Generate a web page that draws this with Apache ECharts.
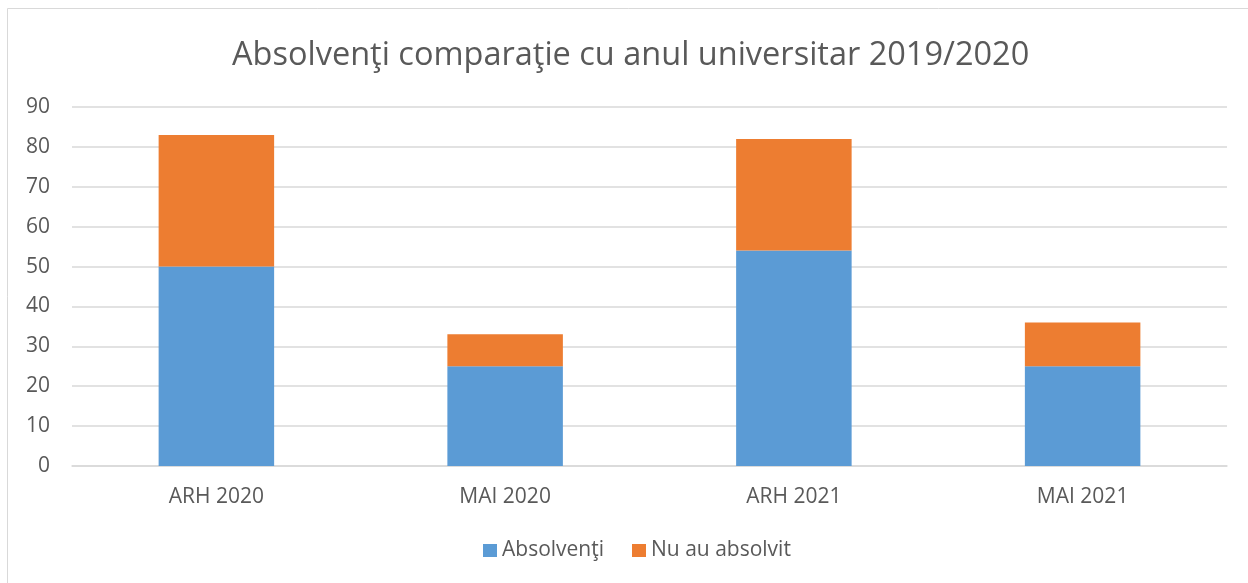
<!DOCTYPE html>
<html>
<head>
    <meta charset="utf-8">
    <title>Absolvenţi</title>
    <script src="https://cdn.jsdelivr.net/npm/echarts@6/dist/echarts.min.js"></script>
    <style>
        body {
            margin: 0;
            padding: 0;
            overflow: hidden;
            background: #fff;
        }

        #chart {
            width: 1248px;
            height: 583px;
        }
    </style>
</head>
<body>
    <div id="chart"></div>

    <script>
        // date
        const categories = ['ARH 2020', 'MAI 2020', 'ARH 2021', 'MAI 2021'];
        const absolventi = [50, 25, 54, 25];
        const nuAuAbsolvit = [33, 8, 28, 11];

        const textColor = '#595959';
        const fontFamily = '"Open Sans", "Noto Sans", sans-serif';

        const chart = echarts.init(document.getElementById('chart'));

        const option = {
            animation: false,
            backgroundColor: '#fff',
            textStyle: {
                fontFamily: fontFamily
            },
            graphic: [{
                type: 'rect',
                shape: { x: 7.5, y: 8.5, width: 1260, height: 600 },
                style: { fill: 'none', stroke: '#d9d9d9', lineWidth: 1 },
                silent: true
            }],
            title: {
                text: 'Absolvenţi comparaţie cu anul universitar 2019/2020',
                left: 227,
                top: 34,
                textStyle: {
                    fontSize: 32.5,
                    fontWeight: 'normal',
                    color: textColor,
                    fontFamily: fontFamily
                }
            },
            legend: {
                bottom: 17,
                left: 478,
                itemWidth: 14,
                itemHeight: 13,
                itemGap: 28,
                icon: 'rect',
                textStyle: {
                    fontSize: 21,
                    color: textColor,
                    fontFamily: fontFamily
                },
                data: ['Absolvenţi', 'Nu au absolvit']
            },
            grid: {
                left: 72,
                right: 21,
                top: 107,
                bottom: 117,
                containLabel: false
            },
            xAxis: {
                type: 'category',
                data: categories,
                axisLine: { lineStyle: { color: '#d9d9d9', width: 1.5 } },
                axisTick: { show: false },
                axisLabel: {
                    fontSize: 21,
                    color: textColor,
                    margin: 21,
                    fontFamily: fontFamily
                }
            },
            yAxis: {
                type: 'value',
                min: 0,
                max: 90,
                interval: 10,
                axisLine: { show: false },
                axisTick: { show: false },
                splitLine: { lineStyle: { color: '#d9d9d9', width: 1.5 } },
                axisLabel: {
                    fontSize: 21,
                    color: textColor,
                    margin: 22,
                    fontFamily: fontFamily
                }
            },
            series: [
                {
                    name: 'Absolvenţi',
                    type: 'bar',
                    stack: 'total',
                    barWidth: '40%',
                    itemStyle: { color: '#5b9bd5' },
                    data: absolventi
                },
                {
                    name: 'Nu au absolvit',
                    type: 'bar',
                    stack: 'total',
                    barWidth: '40%',
                    itemStyle: { color: '#ed7d31' },
                    data: nuAuAbsolvit
                }
            ]
        };

        chart.setOption(option);
    </script>
</body>
</html>
